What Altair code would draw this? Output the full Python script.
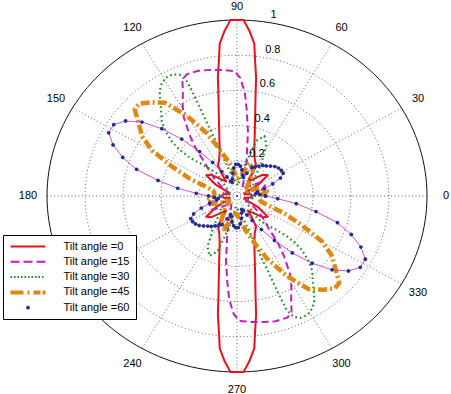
import altair as alt
import pandas as pd
import numpy as np

SERIES = ["Tilt angle =0", "Tilt angle =15", "Tilt angle =30", "Tilt angle =45", "Tilt angle =60"]

# ---- pattern data (angle in degrees, normalised radius) ----
red_theta = [0, 8, 15, 24, 30, 36, 42, 50, 55, 57, 60, 66, 71, 75, 78, 80, 81.5, 83, 84, 86, 88, 90, 92, 94, 96, 97, 98.5, 100, 102, 105, 109, 114, 120, 123, 125, 130, 138, 144, 150, 156, 165, 172,
             180, 188, 195, 204, 210, 216, 222, 230, 235, 237, 240, 246, 251, 255, 258, 260, 261.5, 263, 264, 266, 268, 270, 272, 274, 276, 277, 278.5, 280, 282, 285, 289, 294, 300, 303, 305, 310, 318, 324, 330, 336, 345, 352, 360]
red_r = [0.08, 0.07, 0.04, 0.05, 0.13, 0.20, 0.18, 0.12, 0.10, 0.14, 0.20, 0.23, 0.28, 0.36, 0.46, 0.56, 0.68, 0.78, 0.87, 0.94, 1.0, 1.0, 1.0, 0.94, 0.87, 0.78, 0.68, 0.56, 0.46, 0.36, 0.28, 0.23, 0.20, 0.14, 0.10, 0.12, 0.18, 0.20, 0.13, 0.05, 0.04, 0.07,
         0.08, 0.07, 0.04, 0.05, 0.13, 0.20, 0.18, 0.12, 0.10, 0.14, 0.20, 0.23, 0.28, 0.36, 0.46, 0.56, 0.68, 0.78, 0.87, 0.94, 1.0, 1.0, 1.0, 0.94, 0.87, 0.78, 0.68, 0.56, 0.46, 0.36, 0.28, 0.23, 0.20, 0.14, 0.10, 0.12, 0.18, 0.20, 0.13, 0.05, 0.04, 0.07, 0.08]

mag_theta = [0, 10, 22, 32, 42, 55, 66, 72, 76, 79, 81, 84, 86, 88.5, 91, 96, 101, 106, 111, 113.5, 116, 119, 122, 126, 129, 132, 136, 140, 146, 155, 165, 172,
             180, 190, 202, 212, 222, 235, 246, 252, 256, 259, 261, 264, 266, 268.5, 271, 276, 281, 286, 291, 293.5, 296, 299, 302, 306, 309, 312, 316, 320, 326, 335, 345, 352, 360]
mag_r = [0.08, 0.12, 0.16, 0.15, 0.08, 0.05, 0.08, 0.14, 0.21, 0.28, 0.37, 0.49, 0.59, 0.67, 0.71, 0.72, 0.73, 0.74, 0.74, 0.72, 0.65, 0.59, 0.53, 0.42, 0.34, 0.25, 0.20, 0.16, 0.10, 0.05, 0.07, 0.08,
         0.08, 0.12, 0.16, 0.15, 0.08, 0.05, 0.08, 0.14, 0.21, 0.28, 0.37, 0.49, 0.59, 0.67, 0.71, 0.72, 0.73, 0.74, 0.74, 0.72, 0.65, 0.59, 0.53, 0.42, 0.34, 0.25, 0.20, 0.16, 0.10, 0.05, 0.07, 0.08, 0.08]

grn_theta = [0, 15, 30, 45, 55, 62, 67, 72, 77, 85, 95, 103, 107, 108.5, 109.5, 110.8, 111.5, 112, 113.5, 116, 119, 122, 124.5, 127, 130, 133, 135.5, 138, 139, 138.8, 137, 134, 130, 135, 145, 155, 170,
             180, 195, 210, 225, 235, 242, 247, 252, 257, 265, 275, 283, 287, 288.5, 289.5, 290.8, 291.5, 292, 293.5, 296, 299, 302, 304.5, 307, 310, 313, 315.5, 318, 319, 318.8, 317, 314, 310, 315, 325, 335, 350, 360]
grn_r = [0.10, 0.06, 0.10, 0.12, 0.22, 0.33, 0.37, 0.33, 0.18, 0.06, 0.08, 0.12, 0.18, 0.24, 0.32, 0.44, 0.60, 0.70, 0.75, 0.77, 0.77, 0.75, 0.72, 0.67, 0.62, 0.58, 0.53, 0.46, 0.40, 0.34, 0.28, 0.23, 0.17, 0.10, 0.06, 0.05, 0.08,
         0.10, 0.06, 0.10, 0.12, 0.22, 0.33, 0.37, 0.33, 0.18, 0.06, 0.08, 0.12, 0.18, 0.24, 0.32, 0.44, 0.60, 0.70, 0.75, 0.77, 0.77, 0.75, 0.72, 0.67, 0.62, 0.58, 0.53, 0.46, 0.40, 0.34, 0.28, 0.23, 0.17, 0.10, 0.06, 0.05, 0.08, 0.10]

org_theta = [0, 10, 20, 35, 50, 60, 70, 80, 88, 95, 99, 104, 109, 114, 120, 125.5, 130.5, 134.5, 137.5, 141, 146, 150, 154, 158.5, 161.5, 166, 172,
             180, 190, 200, 215, 230, 240, 250, 260, 268, 275, 279, 284, 289, 294, 300, 305.5, 310.5, 314.5, 317.5, 321, 326, 330, 334, 338.5, 341.5, 346, 352, 360]
org_r = [0.12, 0.16, 0.13, 0.05, 0.10, 0.17, 0.20, 0.12, 0.10, 0.13, 0.16, 0.21, 0.28, 0.39, 0.525, 0.65, 0.70, 0.735, 0.73, 0.67, 0.60, 0.515, 0.38, 0.265, 0.18, 0.13, 0.12,
         0.12, 0.16, 0.13, 0.05, 0.10, 0.17, 0.20, 0.12, 0.10, 0.13, 0.16, 0.21, 0.28, 0.39, 0.525, 0.65, 0.70, 0.735, 0.73, 0.67, 0.60, 0.515, 0.38, 0.265, 0.18, 0.13, 0.12, 0.12]

nav_theta = [0, 4, 8, 12, 16, 20, 24, 28, 32, 36, 40, 44, 48, 52, 56, 60, 64, 68, 72, 76, 80, 84, 88, 92, 96, 100, 104, 108, 112, 116, 120, 124, 128, 132, 136, 140, 144, 148, 152, 156, 160, 164, 168, 172, 176,
             180, 184, 188, 192, 196, 200, 204, 208, 212, 216, 220, 224, 228, 232, 236, 240, 244, 248, 252, 256, 260, 264, 268, 272, 276, 280, 284, 288, 292, 296, 300, 304, 308, 312, 316, 320, 324, 328, 332, 336, 340, 344, 348, 352, 356, 360]
nav_r = [0.15, 0.12, 0.10, 0.11, 0.15, 0.20, 0.25, 0.275, 0.275, 0.27, 0.26, 0.245, 0.23, 0.22, 0.205, 0.19, 0.18, 0.14, 0.11, 0.12, 0.15, 0.17, 0.18, 0.18, 0.16, 0.13, 0.10, 0.08, 0.09, 0.12, 0.16, 0.23, 0.32, 0.435, 0.55, 0.653, 0.725, 0.765, 0.765, 0.714, 0.64, 0.55, 0.425, 0.315, 0.215,
         0.15, 0.12, 0.10, 0.11, 0.15, 0.20, 0.25, 0.275, 0.275, 0.27, 0.26, 0.245, 0.23, 0.22, 0.205, 0.19, 0.18, 0.14, 0.11, 0.12, 0.15, 0.17, 0.18, 0.18, 0.16, 0.13, 0.10, 0.08, 0.09, 0.12, 0.16, 0.23, 0.32, 0.435, 0.55, 0.653, 0.725, 0.765, 0.765, 0.714, 0.64, 0.55, 0.425, 0.315, 0.215, 0.15]

# ---- axes / grid values ----
GRID_R = [0.2, 0.4, 0.6, 0.8]
RADIAL_TICKS = [0.2, 0.4, 0.6, 0.8, 1.0]
RADIAL_LABELS = ["0.2", "0.4", "0.6", "0.8", "1"]
SPOKE_ANGLES = [0, 30, 60, 90, 120, 150, 180, 210, 240, 270, 300, 330]

# ---- styles ----
LINE_COLORS = ["#e8101a", "#c41cc4", "#208a20", "#de8812", "#d23cd2"]
MARK_COLORS = ["#e8101a", "#c41cc4", "#208a20", "#de8812", "#1f2f8f"]
FONT = "Liberation Sans"


def rects(segs, h):
    return "".join(f"M{a},{-h}H{b}V{h}H{a}Z" for a, b in segs)


LEGEND_SHAPES = [
    rects([(-3.5, 3.5)], 0.2),
    rects([(-3.5, -1.7), (-0.9, 0.9), (1.7, 3.5)], 0.2),
    rects([(x, x + 0.3) for x in np.arange(-3.5, 3.3, 0.7).round(2)], 0.2),
    rects([(-3.5, -0.9), (-0.1, 0.3), (1.1, 2.5), (2.9, 3.5)], 0.4),
    "M-0.38,0A0.38,0.38,0,1,1,0.38,0A0.38,0.38,0,1,1,-0.38,0Z",
]


def frame(name, th, rr):
    assert len(th) == len(rr), name
    return pd.DataFrame({"series": name, "order": range(len(th)), "theta": th, "r": rr})


df = pd.concat([
    frame(SERIES[0], red_theta, red_r),
    frame(SERIES[1], mag_theta, mag_r),
    frame(SERIES[2], grn_theta, grn_r),
    frame(SERIES[3], org_theta, org_r),
    frame(SERIES[4], nav_theta, nav_r),
], ignore_index=True)

circle_angles = list(range(0, 361, 2))
grid_df = pd.DataFrame([(r, a) for r in GRID_R for a in circle_angles], columns=["r", "theta"])
outer_df = pd.DataFrame({"r": 1.0, "theta": circle_angles})
spoke_df = pd.DataFrame([(a, r) for a in SPOKE_ANGLES for r in (0.0, 1.0)], columns=["theta", "r"])
alab_df = pd.DataFrame({"theta": SPOKE_ANGLES, "r": 1.1, "label": [str(a) for a in SPOKE_ANGLES]})
rlab_df = pd.DataFrame({"theta": 82, "r": RADIAL_TICKS, "label": RADIAL_LABELS})

XS = alt.Scale(domain=[-1.2474, 1.1263], nice=False, zero=False)
YS = alt.Scale(domain=[-1.125, 1.1136], nice=False, zero=False)
X = alt.X("x:Q", scale=XS, axis=None)
Y = alt.Y("y:Q", scale=YS, axis=None)


def polar(ch):
    return ch.transform_calculate(
        x="datum.r*cos(datum.theta*PI/180)",
        y="datum.r*sin(datum.theta*PI/180)",
    )


grid = polar(alt.Chart(grid_df)).mark_line(color="#555", strokeDash=[1, 2.5], strokeWidth=0.9).encode(
    x=X, y=Y, detail="r:N", order="theta:Q")
spokes = polar(alt.Chart(spoke_df)).mark_line(color="#555", strokeDash=[1, 2.5], strokeWidth=0.9).encode(
    x=X, y=Y, detail="theta:N", order="r:Q")
outer = polar(alt.Chart(outer_df)).mark_line(color="#111", strokeWidth=1).encode(
    x=X, y=Y, order="theta:Q")

styles = [
    dict(color=LINE_COLORS[0], strokeWidth=2),
    dict(color=LINE_COLORS[1], strokeWidth=2, strokeDash=[7, 4]),
    dict(color=LINE_COLORS[2], strokeWidth=2.2, strokeDash=[1.6, 3]),
    dict(color=LINE_COLORS[3], strokeWidth=4.5, strokeDash=[9, 3, 2, 3]),
    dict(color=LINE_COLORS[4], strokeWidth=0.9),
]
curves = []
for name, st in zip(SERIES, styles):
    curves.append(
        polar(alt.Chart(df)).transform_filter(alt.datum.series == name)
        .mark_line(strokeJoin="round", **st)
        .encode(x=X, y=Y, order="order:Q")
    )

leg = alt.Legend(
    title=None, orient="none", legendX=3, legendY=235,
    symbolSize=100, symbolStrokeWidth=0, symbolOffset=13.5,
    labelOffset=30, labelFont=FONT, labelFontSize=11, labelColor="black",
    strokeColor="black", fillColor="white", padding=6, rowPadding=3.3,
    cornerRadius=0, zindex=1,
)
dots = polar(alt.Chart(df)).transform_filter(alt.datum.series == SERIES[4]).mark_point(
    filled=True, size=100, opacity=1).encode(
    x=X, y=Y,
    color=alt.Color("series:N", scale=alt.Scale(domain=SERIES, range=MARK_COLORS), legend=leg),
    shape=alt.Shape("series:N", scale=alt.Scale(domain=SERIES, range=LEGEND_SHAPES), legend=leg),
)

alabels = polar(alt.Chart(alab_df)).transform_filter(alt.datum.theta != 90).mark_text(
    font=FONT, fontSize=11, color="black", align="center", baseline="middle").encode(
    x=X, y=Y, text="label:N")
alabel_top = polar(alt.Chart(alab_df)).transform_filter(alt.datum.theta == 90).mark_text(
    font=FONT, fontSize=11, color="black", align="center", baseline="top", dy=-1).encode(
    x=X, y=Y, text="label:N")
rlabels = polar(alt.Chart(rlab_df)).mark_text(font=FONT, fontSize=11, color="black", align="left", baseline="alphabetic", dx=7, dy=-4).encode(
    x=X, y=Y, text="label:N")

chart = alt.layer(grid, spokes, outer, *curves, dots, alabels, alabel_top, rlabels).properties(
    width=451, height=394, padding=0, autosize=alt.AutoSizeParams(type="none"),
).configure_view(stroke=None)

chart.save("out.html", embed_options={"renderer": "svg", "actions": False})
